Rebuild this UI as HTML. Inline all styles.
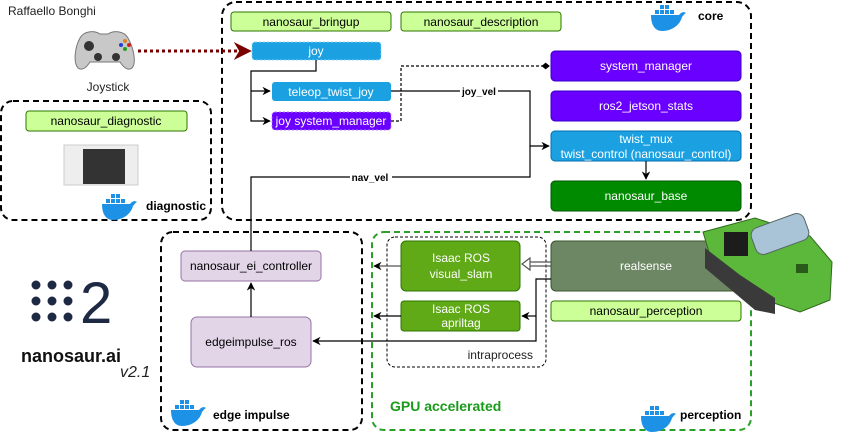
<!DOCTYPE html>
<html><head><meta charset="utf-8"><style>
body{margin:0;background:#fff;}
svg{display:block;font-family:"Liberation Sans",sans-serif;}
</style></head><body>
<svg width="842" height="432" viewBox="0 0 842 432" xmlns="http://www.w3.org/2000/svg">
<defs>
<marker id="a" viewBox="0 0 10 10" refX="9" refY="5" markerWidth="7" markerHeight="7" orient="auto"><path d="M0,0 L10,5 L0,10 L3,5z" fill="#000"/></marker>
<marker id="r" viewBox="0 0 10 10" refX="9" refY="5" markerWidth="6" markerHeight="6" orient="auto"><path d="M0,0 L10,5 L0,10 L3,5z" fill="#7a0000"/></marker>
<marker id="d" viewBox="0 0 10 10" refX="9" refY="5" markerWidth="7" markerHeight="7" orient="auto"><path d="M0,5 L5,1 L10,5 L5,9z" fill="#000"/></marker>
<g id="whale"><path d="M0,10 h28 c3,-4 6,-3 7,-2 c-2,1 -3,3 -4,4 c-2,8 -10,14 -20,14 c-7,0 -11,-6 -11,-16z" fill="#1d91e6"/><rect x="4" y="5" width="4" height="4" fill="#1d91e6"/><rect x="9" y="5" width="4" height="4" fill="#1d91e6"/><rect x="14" y="5" width="4" height="4" fill="#1d91e6"/><rect x="9" y="0" width="4" height="4" fill="#1d91e6"/><rect x="14" y="0" width="4" height="4" fill="#1d91e6"/><rect x="19" y="5" width="4" height="4" fill="#1d91e6"/></g>
</defs>
<rect x="222" y="2" width="529" height="218" rx="14" fill="none" stroke="#000" stroke-width="2" stroke-dasharray="6 4"/>
<rect x="1" y="101" width="210" height="119" rx="12" fill="none" stroke="#000" stroke-width="2" stroke-dasharray="6 4"/>
<rect x="161" y="232" width="201" height="198" rx="12" fill="none" stroke="#000" stroke-width="2" stroke-dasharray="6 4"/>
<rect x="372" y="232" width="379" height="198" rx="12" fill="none" stroke="#2aa02a" stroke-width="2" stroke-dasharray="6 4"/>
<rect x="387" y="237" width="159" height="130" rx="8" fill="none" stroke="#000" stroke-width="1" stroke-dasharray="3 2"/>
<text x="8" y="15" font-size="12" fill="#222">Raffaello Bonghi</text>
<g><path d="M80,38 c4,-7 14,-8 20,-4 h8 c6,-4 16,-3 20,4 c5,9 9,24 4,30 c-4,3 -8,0 -12,-6 h-30 c-4,6 -8,9 -12,6 c-5,-6 -3,-21 2,-30z" fill="#c8c8c8" stroke="#777"/><circle cx="89" cy="46" r="5" fill="#333"/><circle cx="98" cy="57" r="4" fill="#333"/><circle cx="116" cy="57" r="4" fill="#333"/><circle cx="125" cy="41" r="2" fill="#e08020"/><circle cx="129" cy="45" r="2" fill="#d02020"/><circle cx="125" cy="49" r="2" fill="#20a020"/><circle cx="121" cy="45" r="2" fill="#2040d0"/></g>
<text x="108" y="91" font-size="12" text-anchor="middle" fill="#222">Joystick</text>
<line x1="138" y1="51" x2="250" y2="51" stroke="#7a0000" stroke-width="3" stroke-dasharray="3 3" marker-end="url(#r)"/>
<g font-size="12" text-anchor="middle">
<rect x="231" y="12" width="160" height="19" rx="3" fill="#cdff99" stroke="#2d7600"/><text x="311" y="26">nanosaur_bringup</text>
<rect x="401" y="12" width="160" height="19" rx="3" fill="#cdff99" stroke="#2d7600"/><text x="481" y="26">nanosaur_description</text>
<rect x="252" y="42" width="129" height="18" rx="3" fill="#1ba1e2" stroke="#8fd3f5" stroke-dasharray="2 2"/><text x="316" y="55" fill="#fff">joy</text>
<rect x="272" y="82" width="119" height="19" rx="3" fill="#1ba1e2"/><text x="331" y="96" fill="#fff">teleop_twist_joy</text>
<rect x="272" y="112" width="119" height="18" rx="3" fill="#6a00ff" stroke="#b080ff" stroke-dasharray="2 2"/><text x="331" y="125" fill="#fff">joy system_manager</text>
<rect x="551" y="51" width="190" height="30" rx="4" fill="#6a00ff" stroke="#3700cc"/><text x="646" y="70" fill="#fff">system_manager</text>
<rect x="551" y="91" width="190" height="30" rx="4" fill="#6a00ff" stroke="#3700cc"/><text x="646" y="110" fill="#fff">ros2_jetson_stats</text>
<rect x="551" y="131" width="190" height="30" rx="4" fill="#1ba1e2" stroke="#006eaf"/><text x="646" y="143" fill="#fff">twist_mux</text><text x="646" y="158" fill="#fff">twist_control (nanosaur_control)</text>
<rect x="551" y="181" width="190" height="30" rx="4" fill="#008a00" stroke="#005700"/><text x="646" y="200" fill="#fff">nanosaur_base</text>
<rect x="26" y="111" width="161" height="20" rx="3" fill="#cdff99" stroke="#2d7600"/><text x="106" y="125">nanosaur_diagnostic</text>
<rect x="181" y="251" width="140" height="30" rx="4" fill="#e1d5e7" stroke="#9673a6"/><text x="251" y="270">nanosaur_ei_controller</text>
<rect x="191" y="317" width="120" height="50" rx="6" fill="#e1d5e7" stroke="#9673a6"/><text x="251" y="346">edgeimpulse_ros</text>
<rect x="401" y="241" width="119" height="50" rx="5" fill="#60a917" stroke="#2d7600"/><text x="461" y="262" fill="#fff">Isaac ROS</text><text x="461" y="278" fill="#fff">visual_slam</text>
<rect x="401" y="301" width="119" height="30" rx="3" fill="#60a917" stroke="#2d7600"/><text x="461" y="313" fill="#fff">Isaac ROS</text><text x="461" y="327" fill="#fff">apriltag</text>
<rect x="551" y="241" width="190" height="50" rx="5" fill="#6d8764" stroke="#3a5431"/><text x="646" y="270" fill="#fff">realsense</text>
<rect x="551" y="301" width="190" height="20" rx="3" fill="#cdff99" stroke="#2d7600"/><text x="646" y="315">nanosaur_perception</text>
</g>
<rect x="64" y="145" width="74" height="40" fill="#eee" stroke="#ccc"/><rect x="83" y="149" width="42" height="35" fill="#333"/>
<g fill="none" stroke="#000" stroke-width="1.2">
<path d="M316,60 V71 H251 V121 H270" marker-end="url(#a)"/>
<path d="M251,91 H270" marker-end="url(#a)"/>
<path d="M391,91 H530 V146 H549" marker-end="url(#a)"/>
<path d="M251,251 V177 H530 V146"/>
<path d="M391,121 H401 V66 H549" stroke-dasharray="3 2" marker-end="url(#d)"/>
<path d="M646,161 V179" marker-end="url(#a)"/>
<path d="M251,317 V283" marker-end="url(#a)"/>
<path d="M401,266 H374" marker-end="url(#a)" stroke="#555"/>
<path d="M401,316 H374" marker-end="url(#a)"/>
<path d="M551,279 H536 V341 H313" marker-end="url(#a)"/>
<path d="M536,316 H522" marker-end="url(#a)"/>
<path d="M551,262 H530 M551,266 H530" stroke="#555"/>
<path d="M530,258 L522,264 L530,270z" fill="#fff" stroke="#555"/>
</g>
<g font-size="10" font-weight="bold" text-anchor="middle">
<rect x="460" y="86" width="38" height="10" fill="#fff"/><text x="479" y="95">joy_vel</text>
<rect x="350" y="172" width="42" height="10" fill="#fff"/><text x="370" y="181">nav_vel</text>
</g>
<text x="533" y="359" font-size="12" text-anchor="end" fill="#222">intraprocess</text>
<use href="#whale" x="651" y="5"/><text x="698" y="20" font-size="12" font-weight="bold">core</text>
<use href="#whale" x="102" y="194"/><text x="146" y="210" font-size="12" font-weight="bold">diagnostic</text>
<use href="#whale" x="171" y="400"/><text x="213" y="419" font-size="12" font-weight="bold">edge impulse</text>
<use href="#whale" x="641" y="406"/><text x="680" y="419" font-size="12" font-weight="bold">perception</text>
<text x="390" y="411" font-size="14" font-weight="bold" fill="#1a9a1a">GPU accelerated</text>
<g fill="#1e2a44">
<circle cx="36" cy="285" r="4.5"/><circle cx="52" cy="285" r="4.5"/><circle cx="68" cy="285" r="4.5"/>
<circle cx="36" cy="301" r="4.5"/><circle cx="52" cy="301" r="4.5"/><circle cx="68" cy="301" r="4.5"/>
<circle cx="36" cy="317" r="4.5"/><circle cx="52" cy="317" r="4.5"/><circle cx="68" cy="317" r="4.5"/>
<text x="80" y="323" font-size="58">2</text>
</g>
<text x="21" y="362" font-size="18" font-weight="bold" fill="#111">nanosaur.ai</text>
<text x="120" y="377" font-size="16" font-style="italic" fill="#222">v2.1</text>
<g>
<path d="M703,232 L755,218 L810,236 L832,262 L830,300 L800,312 L765,300 L712,262z" fill="#5cb83a" stroke="#2e6b1c"/>
<path d="M705,248 L740,275 L775,298 L775,314 L755,310 L705,268z" fill="#3a3a3a"/>
<rect x="752" y="220" width="56" height="28" rx="8" fill="#a9c4d6" stroke="#566" transform="rotate(-20 780 234)"/>
<rect x="724" y="232" width="24" height="24" fill="#1c1c1c"/>
<rect x="796" y="264" width="12" height="9" fill="#2a5a1a"/>
</g>
</svg>
</body></html>
